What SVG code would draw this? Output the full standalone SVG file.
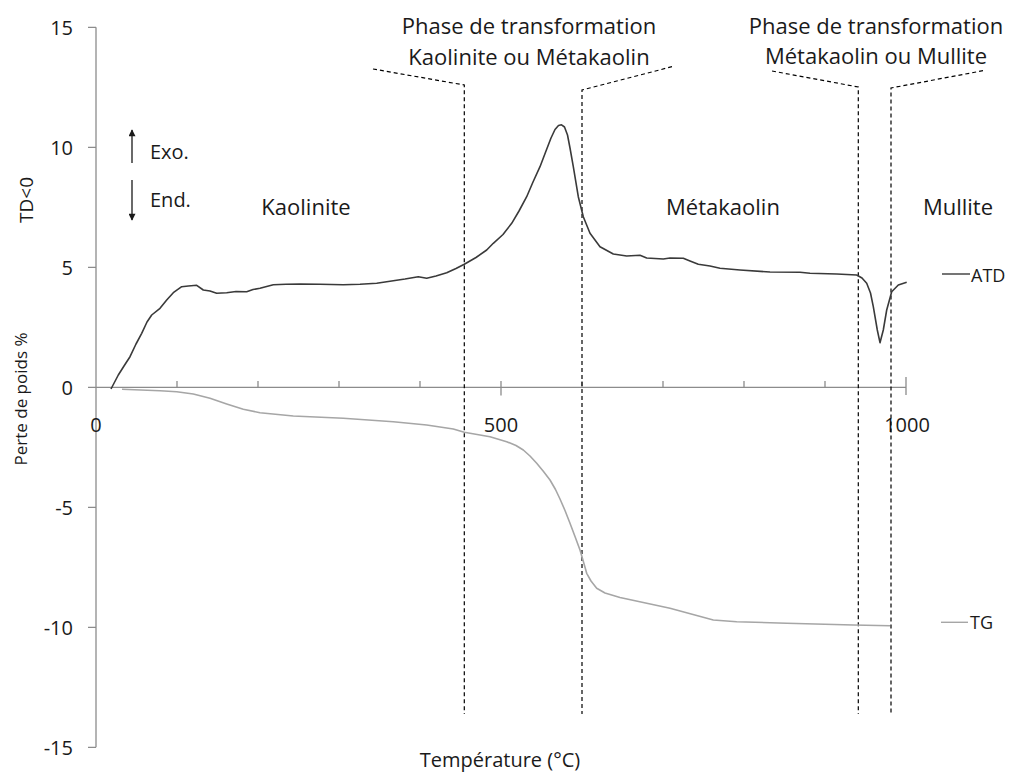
<svg xmlns="http://www.w3.org/2000/svg" width="1010" height="774" viewBox="0 0 1010 774">
<style>
text{font-family:"Open Sans","Liberation Sans",sans-serif;fill:#1a1a1a}
.num{font-size:20px}
.lbl{font-size:22px}
.axis{stroke:#8c8c8c;stroke-width:1.3;fill:none}
.dash{stroke:#000;stroke-width:1.2;stroke-dasharray:4,3;fill:none}
.atd{stroke:#3a3a3a;stroke-width:1.6;fill:none;stroke-linejoin:round}
.tg{stroke:#a6a6a6;stroke-width:1.6;fill:none;stroke-linejoin:round}
</style>
<defs>
<marker id="ah" viewBox="0 0 10 10" refX="9" refY="5" markerWidth="8" markerHeight="7" orient="auto-start-reverse" markerUnits="userSpaceOnUse"><path d="M0,0 L10,5 L0,10 z" fill="#1a1a1a"/></marker>
</defs>
<g id="axes">
<line class="axis" x1="96" y1="27.3" x2="96" y2="747.3"/>
<line class="axis" x1="96" y1="387.3" x2="906" y2="387.3"/>
<path class="axis" d="M88,27.3H96M88,147.3H96M88,267.3H96M88,387.3H96M88,507.3H96M88,627.3H96M88,747.3H96"/>
<path class="axis" d="M177,381V387.3M258,381V387.3M339,381V387.3M420,381V387.3M582,381V387.3M663,381V387.3M744,381V387.3M825,381V387.3M501,381V395.5M906,377V395"/>
<g class="num" text-anchor="end">
<text x="73" y="35">15</text>
<text x="73" y="155">10</text>
<text x="73" y="275">5</text>
<text x="73" y="395">0</text>
<text x="73" y="515">-5</text>
<text x="73" y="635">-10</text>
<text x="73" y="755">-15</text>
</g>
<g class="num" text-anchor="middle">
<text x="96" y="432">0</text>
<text x="501" y="432">500</text>
<text x="907" y="432">1000</text>
</g>
<text x="500" y="767" font-size="20" text-anchor="middle">Température (°C)</text>
<text transform="translate(27,399) rotate(-90)" font-size="17" text-anchor="middle">Perte de poids %</text>
<text transform="translate(33,200) rotate(-90)" font-size="19" text-anchor="middle">TD&lt;0</text>
</g>
<g id="phase-lines">
<path class="dash" d="M373,69 L464.3,85 V714"/>
<path class="dash" d="M672,66.7 L582,90 V714"/>
<path class="dash" d="M772,71 L858.3,87 V714"/>
<path class="dash" d="M983,70.7 L891,88 V714"/>
</g>
<g id="phase1">
<text class="lbl" x="529" y="33.5" text-anchor="middle">Phase de transformation</text>
<text class="lbl" x="529" y="65" text-anchor="middle">Kaolinite ou Métakaolin</text>
</g>
<g id="phase2">
<text class="lbl" x="876" y="33.5" text-anchor="middle">Phase de transformation</text>
<text class="lbl" x="876" y="64" text-anchor="middle">Métakaolin ou Mullite</text>
</g>
<g id="regions">
<text class="lbl" x="306" y="215" text-anchor="middle">Kaolinite</text>
<text class="lbl" x="723" y="215" text-anchor="middle">Métakaolin</text>
<text class="lbl" x="958" y="215" text-anchor="middle">Mullite</text>
</g>
<g id="exo-end">
<line x1="132" y1="163" x2="132" y2="130" stroke="#1a1a1a" stroke-width="1.3" marker-end="url(#ah)"/>
<line x1="132" y1="180" x2="132" y2="220" stroke="#1a1a1a" stroke-width="1.3" marker-end="url(#ah)"/>
<text x="150" y="159" font-size="20">Exo.</text>
<text x="150" y="207" font-size="20">End.</text>
</g>
<g id="curves">
<polyline id="ATD" class="atd" points="111,389 118.3,375 124,366 130,356.7 136,344 141.7,333.3 147,322 151.7,315 160,308.3 166.7,300 173.3,292.7 181.7,286.7 188.3,286 196.7,285.3 203.3,290 210,291 216.7,293.3 226.7,292.7 236,291.5 246.7,291.7 253,289.5 260,288.3 273.3,284.7 286,284.2 300,284 320,284.3 343.3,284.7 360,284.2 376.7,283.3 393.3,280.7 405,279 418.3,276.7 426.7,278.3 436,276 446.7,272.7 456,268.5 464.3,264.3 476,257.5 486.7,250 493.3,243.3 503,234.5 511.7,223.3 519,211 526.7,196.7 533,182 540,166.7 546,151 551,138 555,129.5 558.5,125.5 561.5,124.8 564.5,127 567.5,135 570,148 573.3,166.7 578.3,196.7 583.3,216.7 590,233.3 600,246.7 613.3,254 626.7,256 640,255.3 646.7,258 663.3,259 670,258 683.3,258.3 690,261 698.3,264.3 710,266 720,268.3 740,270 770,272 800,272.3 810,273.3 836.7,274 856.7,275 862,278 866.7,283.3 870.5,293 873.3,306.7 877.3,330 880,342.7 883.3,330 886.7,310 891.7,291.7 898.3,285 906.7,282.3"/>
<polyline id="TG" class="tg" points="122,389.3 160,390.7 176.7,391.7 193.3,394 210,398.3 226.7,404 243.3,409.3 260,412.7 293.3,416 343.3,418.3 393.3,421.7 426.7,425 453.3,429 464.3,432.3 490,436.7 506.7,441.7 516,445.5 523.3,450 530,456 536.7,463.3 543.5,471.5 550,480 555.5,489.5 560,499 565,510.5 570,523.3 575,536.5 580,550 583.5,562 586.7,573.3 591,581 596.7,588.3 605,593 620,597.5 670,608.3 713.3,620 736.7,621.7 786.7,623.3 853.3,625 890,625.7"/>
</g>
<g id="legend">
<line x1="942" y1="274" x2="970" y2="274" stroke="#3a3a3a" stroke-width="1.4"/>
<text x="971" y="281.7" font-size="18">ATD</text>
<line x1="941" y1="622.3" x2="968" y2="622.3" stroke="#a6a6a6" stroke-width="1.4"/>
<text x="970" y="628.5" font-size="18">TG</text>
</g>
</svg>
